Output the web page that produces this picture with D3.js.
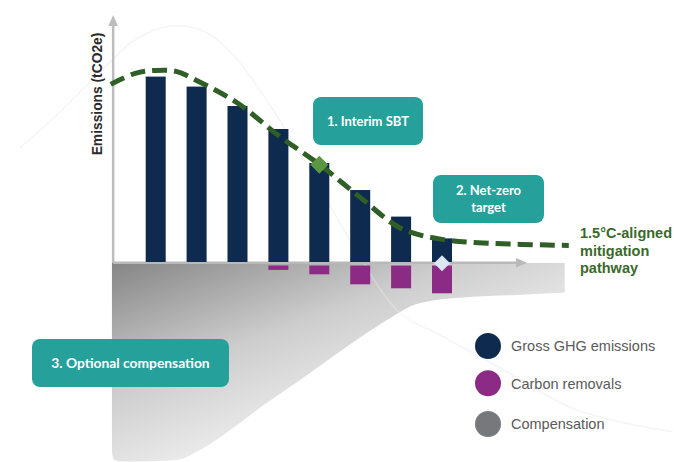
<!DOCTYPE html>
<html><head><meta charset="utf-8">
<script src="https://cdn.jsdelivr.net/npm/d3@7"></script>
<style>html,body{margin:0;padding:0;background:#fff;}svg{display:block;}</style>
</head><body>
<svg id="chart" width="674" height="462"></svg>
<script>
// ---- data ----
const periods = [0, 1, 2, 3, 4, 5, 6, 7];
const grossEmissions = [92.7, 87.7, 78, 66.5, 49.5, 36, 22.7, 11.8];
const carbonRemovals = [0, 0, 0, 2.2, 4.4, 9.4, 11.4, 13.9];
const pathwayX = [-1.1, -0.5, 0, 0.5, 1, 2, 3, 4, 5, 6, 7, 8, 10.1];
const pathwayY = [88.8, 94.3, 95.8, 95.3, 90.8, 79.5, 63.3, 48.8, 32.3, 16.8, 11.3, 9.5, 8.3];
const compensationX = [-1.07, -1.03, -0.9, -0.555, 0.513, 1.083, 1.89, 2.71, 3.53, 4.335, 5.16, 5.8, 6.22, 6.78, 7.6, 8.83, 10.0];
const compensationY = [-95, -98.6, -99.6, -99.8, -99, -94, -83, -70.5, -59, -47.3, -35.5, -27.3, -22.3, -19.3, -17.6, -16.5, -15.3];
const milestones = [{label: "interim", x: 4, v: 48.6}, {label: "netzero", x: 7, v: -0.6}];
const legendLabels = ["Gross GHG emissions", "Carbon removals", "Compensation"];
const bgCurveX = [-3.32, -2.34, -1.36, -0.51, 0.35, 1.21, 1.94, 2.79, 3.77, 4.75, 5.97, 6.95, 8.42, 10.3, 12.65];
const bgCurveY = [57, 75, 95, 111, 118, 115, 102.5, 78.5, 46, 11, -25.5, -36.5, -53, -74, -85];

// ---- layout ----
const svg = d3.select("#chart");
const x = d3.scaleLinear().domain([0, 7]).range([155.7, 442]);
const y = d3.scaleLinear().domain([0, 100]).range([262, 62]);
const axisX0 = -1.04, axisX1 = 9.08, axisTop = 123.5;
const barW = 20, remGap = 3.5;
const navy = "#0e2a4f", purple = "#8c2b85", grey = "#76787b", teal = "#26a09a", green = "#2f5e26";

const defs = svg.append("defs");
const grad = defs.append("linearGradient").attr("id", "compGrad")
  .attr("gradientUnits", "userSpaceOnUse")
  .attr("x1", x(axisX0)).attr("y1", y(0))
  .attr("x2", x(axisX0) + 78).attr("y2", y(-104));
grad.append("stop").attr("offset", 0).attr("stop-color", "#858585");
grad.append("stop").attr("offset", 0.55).attr("stop-color", "#cdcdcd");
grad.append("stop").attr("offset", 1).attr("stop-color", "#eeeeee");

const bgLine = d3.line().x(d => x(d[0])).y(d => y(d[1])).curve(d3.curveCatmullRom);
const bgData = bgCurveX.map((d, i) => [d, bgCurveY[i]]);
// faint background curve
svg.append("path").datum(bgData).attr("d", bgLine)
  .attr("fill", "none").attr("stroke", "#f3f3f3").attr("stroke-width", 1.6);

// compensation area
svg.append("path")
  .datum(compensationX.map((d, i) => [d, compensationY[i]]))
  .attr("d", d3.area().x(d => x(d[0])).y0(y(0) + 1).y1(d => y(d[1])).curve(d3.curveMonotoneX))
  .attr("fill", "url(#compGrad)");
svg.append("path").datum(bgData).attr("d", bgLine)
  .attr("fill", "none").attr("stroke", "#ffffff").attr("stroke-opacity", 0.25).attr("stroke-width", 1.6);

// axes
const axisColor = "#bdbdbd";
svg.append("line").attr("x1", x(axisX0)).attr("x2", x(axisX0))
  .attr("y1", y(0) + 1).attr("y2", y(axisTop) + 9)
  .attr("stroke", axisColor).attr("stroke-width", 2.5);
svg.append("path")
  .attr("d", `M${x(axisX0)},${y(axisTop)} l-4.8,11 l9.6,0 z`)
  .attr("fill", axisColor);
svg.append("line").attr("x1", x(axisX0)).attr("x2", x(axisX1) - 9)
  .attr("y1", y(0) + 0.8).attr("y2", y(0) + 0.8)
  .attr("stroke", "#b9b9b9").attr("stroke-width", 2.5);
svg.append("path")
  .attr("d", `M${x(axisX1)},${y(0) + 0.8} l-11,-4.8 l0,9.6 z`)
  .attr("fill", "#b9b9b9");

// bars
svg.append("g").selectAll("rect").data(periods).join("rect")
  .attr("x", d => x(d) - barW / 2).attr("width", barW)
  .attr("y", (d, i) => y(grossEmissions[i]))
  .attr("height", (d, i) => y(0) - y(grossEmissions[i]))
  .attr("fill", navy);

svg.append("g").selectAll("rect").data(periods.filter((d, i) => carbonRemovals[i] > 0)).join("rect")
  .attr("x", d => x(d) - barW / 2).attr("width", barW)
  .attr("y", y(0) + remGap)
  .attr("height", d => y(-carbonRemovals[d]) - y(0))
  .attr("fill", purple);

// pathway line
svg.append("path")
  .datum(pathwayX.map((d, i) => [d, pathwayY[i]]))
  .attr("d", d3.line().x(d => x(d[0])).y(d => y(d[1])).curve(d3.curveCatmullRom))
  .attr("fill", "none").attr("stroke", green).attr("stroke-width", 5)
  .attr("stroke-dasharray", "15,7");

// milestone diamonds
const dia = (s) => `M0,${-s} L${s},0 L0,${s} L${-s},0 Z`;
svg.append("path").attr("d", dia(9))
  .attr("transform", `translate(${x(milestones[0].x)},${y(milestones[0].v)})`)
  .attr("fill", "#5b9640");
svg.append("path").attr("d", dia(8))
  .attr("transform", `translate(${x(milestones[1].x)},${y(milestones[1].v)})`)
  .attr("fill", "#dbe7f3");

// pathway label
const pl = svg.append("text").attr("x", 580).attr("y", 238)
  .attr("font-family", "Liberation Sans, Arial, sans-serif").attr("font-weight", "bold")
  .attr("font-size", 14.5).attr("fill", "#3a6a2b");
["1.5°C-aligned", "mitigation", "pathway"].forEach((t, i) =>
  pl.append("tspan").attr("x", 580).attr("dy", i ? 17.5 : 0).text(t));

// y label
svg.append("text")
  .attr("transform", `translate(102,94) rotate(-90)`)
  .attr("text-anchor", "middle")
  .attr("font-family", "Liberation Sans, Arial, sans-serif").attr("font-weight", "bold")
  .attr("font-size", 13.8).attr("fill", "#2b2b2b")
  .text("Emissions (tCO2e)");

// annotation boxes
function box(cx, cy, w, h, lines, fs) {
  const g = svg.append("g");
  g.append("rect").attr("x", cx - w / 2).attr("y", cy - h / 2).attr("width", w).attr("height", h)
    .attr("rx", 8).attr("fill", teal);
  const t = g.append("text").attr("text-anchor", "middle")
    .attr("font-family", "Lato, 'Open Sans', sans-serif").attr("font-weight", "bold")
    .attr("font-size", fs).attr("fill", "#fff");
  const lh = 17.5;
  lines.forEach((s, i) => t.append("tspan").attr("x", cx)
    .attr("y", cy + 4.5 + (i - (lines.length - 1) / 2) * lh).text(s));
}
box(368, 121, 110, 48, ["1. Interim SBT"], 13);
box(488.5, 199, 111, 48, ["2. Net-zero", "target"], 13);
box(130.5, 363, 197, 48, ["3. Optional compensation"], 13.8);

// legend
const legColors = d3.scaleOrdinal().domain(legendLabels).range([navy, purple, grey]);
const legY = [346, 383.3, 424];
const lg = svg.append("g").selectAll("g").data(legendLabels).join("g")
  .attr("transform", (d, i) => `translate(488,${legY[i]})`);
lg.append("circle").attr("r", 13).attr("fill", d => legColors(d));
lg.append("text").attr("x", 23).attr("y", 5.2)
  .attr("font-family", "Liberation Sans, Arial, sans-serif").attr("font-size", 14.5)
  .attr("fill", "#5a5a5a").text(d => d);
</script>
</body></html>
